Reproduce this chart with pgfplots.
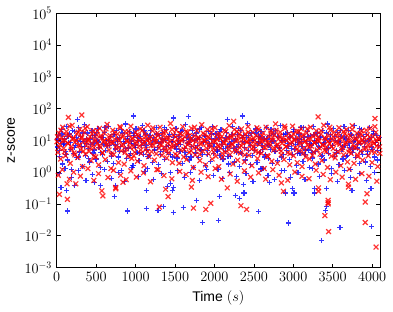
\documentclass[border=0pt]{standalone}
\usepackage{fontspec}
\setmainfont{Liberation Sans}
\usepackage{pgfplots}
\pgfplotsset{compat=1.18}
\begin{document}
\fontsize{14bp}{16bp}\selectfont
\begin{tikzpicture}
\begin{axis}[
  scale only axis, width=323bp, height=254bp,
  xmin=0, xmax=4100, ymin=1e-3, ymax=1e5, ymode=log, log basis y=10,
  xtick={0,500,...,4000},
  ytick={1e-3,1e-2,1e-1,1,10,100,1000,1e4,1e5},
  /pgf/number format/1000 sep={},
  tick align=inside, major tick length=4bp, minor tick length=2bp,
  tick style={black, line width=0.6pt},
  axis line style={line width=0.8pt},
  tick label style={font=\fontsize{14bp}{16bp}\selectfont},
  label style={font=\fontsize{14bp}{16bp}\selectfont},
  xlabel={Time $(s)$}, ylabel={z-score},
  clip=true,
]
% blue series (+)
\addplot[only marks, mark=+, mark size=2.6bp, color=blue, opacity=0.8, mark options={line width=1.2pt}] coordinates {
(8,6.2)(20,14)(31,3.1)(44,9.5)(57,22)(69,1.8)(82,7.4)(95,11)(108,4.6)(121,28)(134,2.4)(147,8.8)(160,16)(173,5.1)(186,1.2)(199,12)(212,3.8)(225,19)(238,7.0)(251,2.9)(264,10)(277,25)(290,4.3)(303,13)(316,6.6)(329,1.5)(342,9.0)(355,31)(368,3.4)(381,7.9)(394,17)(407,5.5)(420,2.1)(433,11)(446,20)(459,4.0)(472,8.3)(485,14)
(498,2.6)(511,9.8)(524,24)(537,6.1)(550,1.4)(563,12)(576,3.6)(589,7.7)(602,18)(615,4.9)(628,10)(641,2.2)(654,27)(667,6.8)(680,13)(693,3.2)(706,8.6)(719,1.9)(732,15)(745,5.4)(758,21)(771,9.2)(784,3.0)(797,12)(810,6.4)(823,1.1)(836,17)(849,4.4)(862,8.0)(875,33)(888,2.7)(901,11)(914,5.8)(927,19)(940,3.9)(953,9.6)(966,1.6)(979,14)(992,7.2)
(1005,23)(1018,4.1)(1031,10)(1044,2.3)(1057,13)(1070,6.9)(1083,29)(1096,3.5)(1109,8.4)(1122,16)(1135,5.0)(1148,1.3)(1161,11)(1174,3.3)(1187,20)(1200,7.5)(1213,2.0)(1226,12)(1239,4.7)(1252,9.1)(1265,26)(1278,6.0)(1291,1.7)(1304,14)(1317,3.7)(1330,8.9)(1343,18)(1356,5.3)(1369,2.5)(1382,10)(1395,22)(1408,4.2)(1421,7.1)(1434,15)(1447,1.0)(1460,9.4)(1473,3.0)(1486,12)
(1499,6.3)(1512,24)(1525,2.8)(1538,8.1)(1551,13)(1564,4.5)(1577,19)(1590,1.9)(1603,10)(1616,5.7)(1629,31)(1642,3.2)(1655,7.8)(1668,15)(1681,2.4)(1694,11)(1707,6.5)(1720,21)(1733,1.4)(1746,9.9)(1759,4.0)(1772,17)(1785,7.0)(1798,2.9)(1811,12)(1824,5.2)(1837,25)(1850,3.6)(1863,8.7)(1876,14)(1889,1.6)(1902,10)(1915,4.8)(1928,19)(1941,6.7)(1954,2.2)(1967,11)(1980,28)(1993,3.9)
(2006,8.2)(2019,16)(2032,5.0)(2045,1.2)(2058,12)(2071,3.4)(2084,22)(2097,7.3)(2110,2.6)(2123,10)(2136,4.6)(2149,18)(2162,6.2)(2175,1.8)(2188,13)(2201,3.1)(2214,9.0)(2227,27)(2240,5.5)(2253,2.1)(2266,11)(2279,4.3)(2292,15)(2305,7.6)(2318,1.5)(2331,20)(2344,3.8)(2357,9.5)(2370,14)(2383,6.0)(2396,2.4)(2409,12)(2422,35)(2435,4.9)(2448,8.5)(2461,1.7)(2474,17)(2487,3.3)
(2500,10)(2513,5.9)(2526,23)(2539,2.0)(2552,8.0)(2565,13)(2578,4.1)(2591,19)(2604,6.8)(2617,1.3)(2630,11)(2643,3.5)(2656,26)(2669,7.4)(2682,2.7)(2695,14)(2708,5.2)(2721,9.3)(2734,1.9)(2747,16)(2760,4.4)(2773,21)(2786,7.0)(2799,2.3)(2812,12)(2825,5.6)(2838,30)(2851,3.0)(2864,9.7)(2877,15)(2890,1.1)(2903,10)(2916,4.7)(2929,18)(2942,6.4)(2955,2.5)(2968,13)(2981,8.1)(2994,3.7)
(3007,22)(3020,5.3)(3033,11)(3046,1.6)(3059,8.8)(3072,16)(3085,4.0)(3098,25)(3111,6.6)(3124,2.2)(3137,12)(3150,3.6)(3163,9.1)(3176,19)(3189,5.0)(3202,1.4)(3215,14)(3228,7.2)(3241,2.8)(3254,28)(3267,10)(3280,4.5)(3293,8.3)(3306,17)(3319,1.8)(3332,6.1)(3345,13)(3358,3.2)(3371,21)(3384,7.7)(3397,2.4)(3410,11)(3423,5.4)(3436,33)(3449,3.9)(3462,9.0)(3475,15)(3488,1.3)
(3501,6.9)(3514,24)(3527,3.1)(3540,10)(3553,4.8)(3566,18)(3579,1.7)(3592,8.6)(3605,13)(3618,5.1)(3631,2.6)(3644,27)(3657,7.1)(3670,11)(3683,3.4)(3696,20)(3709,6.0)(3722,1.2)(3735,14)(3748,4.2)(3761,9.4)(3774,30)(3787,2.9)(3800,12)(3813,5.8)(3826,16)(3839,1.9)(3852,8.0)(3865,22)(3878,3.7)(3891,10)(3904,6.3)(3917,2.1)(3930,15)(3943,4.6)(3956,9.8)(3969,26)(3982,1.5)(3995,12)(4008,5.2)(4021,19)(4034,3.0)(4047,8.4)(4060,14)(4073,2.4)(4086,7.0)
(14,11)(40,4.8)(66,16)(92,7.9)(118,3.6)(144,13)(170,8.5)(196,21)(222,5.9)(248,12)(274,3.0)(300,9.3)(326,17)(352,6.4)(378,11)(404,2.7)(430,7.6)(456,14)(482,5.0)(508,18)(534,8.9)(560,4.2)(586,12)(612,26)(638,6.9)(664,10)(690,3.9)(716,15)(742,7.2)(768,11)(794,4.5)(820,22)(846,9.0)(872,5.6)(898,13)(924,3.3)(950,8.0)(976,17)(1002,6.1)(1028,12)(1054,4.0)(1080,9.8)(1106,20)(1132,7.0)(1158,3.2)(1184,14)(1210,10)(1236,5.3)(1262,16)(1288,8.3)(1314,4.6)(1340,11)(1366,25)(1392,6.6)(1418,13)(1444,3.5)(1470,9.0)(1496,15)(1522,5.4)(1548,10)(1574,7.4)(1600,21)(1626,4.2)(1652,12)(1678,8.6)(1704,3.0)(1730,14)(1756,6.0)(1782,11)(1808,23)(1834,5.0)(1860,9.5)(1886,13)(1912,3.7)(1938,8.0)(1964,16)(1990,6.4)
(2016,11)(2042,4.4)(2068,19)(2094,9.2)(2120,5.6)(2146,12)(2172,3.2)(2198,7.7)(2224,15)(2250,10)(2276,6.2)(2302,24)(2328,4.1)(2354,12)(2380,8.4)(2406,3.4)(2432,14)(2458,6.8)(2484,10)(2510,4.8)(2536,17)(2562,8.9)(2588,12)(2614,5.2)(2640,3.0)(2666,11)(2692,7.1)(2718,22)(2744,9.6)(2770,4.5)(2796,13)(2822,6.0)(2848,10)(2874,3.6)(2900,16)(2926,8.2)(2952,12)(2978,5.5)(3004,19)(3030,7.4)(3056,3.9)(3082,11)(3108,9.0)(3134,25)(3160,5.0)(3186,13)(3212,7.9)(3238,4.2)(3264,15)(3290,10)(3316,6.3)(3342,12)(3368,3.4)(3394,8.7)(3420,17)(3446,5.8)(3472,11)(3498,7.0)(3524,13)(3550,4.0)(3576,9.3)(3602,21)(3628,6.5)(3654,12)(3680,3.1)(3706,8.1)(3732,15)(3758,5.4)(3784,10)(3810,7.6)(3836,24)(3862,4.6)(3888,13)(3914,9.2)(3940,3.5)(3966,11)(3992,6.2)(4018,16)(4044,8.8)(4070,4.9)(4096,12)
(40,0.9)(105,1.3)(190,0.7)(280,1.1)(370,0.55)(450,0.85)(610,1.2)(690,0.65)(780,0.95)(860,0.5)(955,1.4)(1040,0.75)(1120,1.05)(1230,0.6)(1330,0.9)(1440,0.45)(1530,1.1)(1620,0.7)(1700,0.95)(1810,0.55)(1900,1.2)(1990,0.8)(2100,0.62)(2190,1.0)(2280,0.72)(2400,0.9)(2490,0.52)(2590,1.25)(2680,0.8)(2760,0.6)(2850,1.1)(2960,0.7)(3060,0.95)(3150,0.58)(3240,1.3)(3330,0.75)(3480,0.9)(3560,0.5)(3650,1.15)(3730,0.68)(3840,0.92)(3930,0.55)(4030,1.0)
(135,0.06)(898,0.06)(127,0.27)(55,0.33)(230,0.38)(560,0.38)(733,0.17)(745,0.37)(483,0.48)(1136,0.071)(1285,0.063)(1349,0.083)(1480,0.055)(1603,0.077)(1849,0.026)(2052,0.03)(1776,0.13)(1136,0.26)(1473,0.27)(1480,0.33)(1400,0.36)(2069,0.17)(2561,0.057)(2943,0.025)(2318,0.15)(2265,0.18)(2375,0.22)(2370,0.4)(2900,0.22)(3010,0.22)(2990,0.3)(2700,0.47)(3363,0.0071)(3413,0.061)(3420,0.081)(3592,0.018)(3995,0.019)(3420,0.3)(3270,0.31)(3270,0.22)(3745,0.26)(3987,0.3)
(975,59)(262,46)(1484,51)(1667,55)(2358,59)(2163,46)
};
% red series (x)
\addplot[only marks, mark=x, mark size=3.4bp, color=red, opacity=0.8, mark options={line width=1.2pt}] coordinates {
(3,9.1)(15,4.2)(27,17)(39,7.5)(51,2.6)(63,12)(75,26)(87,5.6)(99,10)(111,3.3)(123,19)(147,8.0)(159,14)(171,1.9)(183,6.3)(195,30)(207,11)(219,4.0)(231,8.7)(255,16)(267,2.9)(279,7.0)(291,22)(303,5.1)(315,12)(327,1.5)(339,9.4)(351,18)(363,3.7)(375,6.8)(387,27)(399,10)(411,4.5)(423,13)(435,2.3)(447,7.9)(459,20)(471,5.9)(483,11)
(495,3.0)(507,15)(519,8.3)(531,1.7)(543,24)(555,6.1)(567,12)(579,4.1)(591,9.0)(603,17)(615,2.5)(627,7.2)(639,32)(651,10)(663,5.0)(675,14)(687,1.3)(699,8.5)(711,21)(723,3.6)(735,11)(759,6.6)(771,16)(783,2.0)(795,9.8)(807,25)(819,4.7)(831,13)(843,7.4)(855,1.8)(867,19)(879,5.4)(891,10)(903,3.2)(915,15)(927,8.1)(939,28)(951,2.7)(963,12)(975,6.0)(987,4.3)
(999,18)(1011,9.2)(1023,2.2)(1035,14)(1047,6.7)(1059,23)(1071,3.9)(1083,11)(1095,7.7)(1107,1.6)(1119,16)(1131,5.3)(1143,10)(1155,30)(1167,3.1)(1179,8.6)(1191,13)(1203,4.4)(1215,20)(1227,6.9)(1239,2.4)(1251,12)(1263,9.5)(1275,17)(1287,1.2)(1299,5.7)(1311,26)(1323,7.1)(1335,3.4)(1347,14)(1359,10)(1371,4.8)(1383,19)(1395,2.8)(1407,8.2)(1419,12)(1431,5.6)(1443,34)(1455,6.4)(1467,2.0)(1479,15)(1491,9.0)
(1503,3.7)(1515,21)(1527,7.3)(1539,11)(1551,1.9)(1563,16)(1575,5.0)(1587,9.6)(1599,27)(1611,3.0)(1623,13)(1635,6.2)(1647,2.5)(1659,18)(1671,8.4)(1683,4.2)(1695,11)(1707,24)(1719,6.7)(1731,1.4)(1743,14)(1755,3.5)(1767,9.1)(1779,20)(1791,5.2)(1803,12)(1815,2.3)(1827,7.6)(1839,31)(1851,4.6)(1863,10)(1875,15)(1887,1.7)(1899,8.0)(1911,22)(1923,3.8)(1935,12)(1947,6.3)(1959,17)(1971,2.6)(1983,9.3)(1995,5.5)
(2007,25)(2019,3.2)(2031,11)(2043,7.0)(2055,1.5)(2067,16)(2079,5.8)(2091,13)(2103,2.9)(2115,8.9)(2127,21)(2139,4.3)(2151,10)(2175,6.5)(2187,29)(2199,3.6)(2211,12)(2223,7.8)(2235,1.8)(2247,15)(2259,5.1)(2271,9.7)(2283,19)(2295,2.4)(2307,13)(2319,6.0)(2331,4.0)(2343,23)(2355,8.3)(2367,11)(2379,2.1)(2391,16)(2403,5.4)(2415,9.0)(2427,27)(2439,3.4)(2451,12)(2463,7.2)(2475,1.6)(2487,18)(2499,6.1)
(2511,10)(2523,4.5)(2535,14)(2547,2.7)(2559,22)(2571,7.5)(2583,12)(2595,3.9)(2607,9.4)(2619,17)(2631,1.3)(2643,5.9)(2655,26)(2667,8.6)(2679,3.1)(2691,13)(2703,6.8)(2715,20)(2727,2.2)(2739,10)(2751,4.9)(2763,15)(2775,33)(2787,7.0)(2799,1.9)(2811,11)(2823,5.3)(2835,18)(2847,3.5)(2859,8.1)(2871,12)(2883,2.5)(2895,24)(2907,6.4)(2919,9.9)(2931,4.1)(2943,16)(2955,1.7)(2967,7.7)(2979,13)(2991,28)
(3003,3.3)(3015,10)(3027,6.0)(3039,19)(3051,2.0)(3063,12)(3075,4.7)(3087,8.8)(3099,23)(3111,1.5)(3123,15)(3135,5.6)(3147,9.3)(3159,3.0)(3171,17)(3183,7.1)(3195,11)(3207,2.6)(3219,26)(3231,6.6)(3243,14)(3255,4.3)(3267,8.4)(3279,1.8)(3291,20)(3303,5.0)(3315,12)(3327,9.6)(3339,3.7)(3351,16)(3363,2.3)(3375,7.4)(3387,30)(3399,4.9)(3411,11)(3423,6.2)(3435,1.4)(3447,14)(3459,8.0)(3471,21)(3483,3.2)(3495,10)
(3507,5.5)(3519,18)(3531,2.8)(3543,9.1)(3555,13)(3567,4.4)(3579,25)(3591,7.6)(3603,1.6)(3615,12)(3627,6.1)(3639,3.5)(3651,16)(3663,8.7)(3675,22)(3687,2.1)(3699,10)(3711,5.2)(3723,14)(3735,3.9)(3747,29)(3759,7.3)(3771,1.9)(3783,11)(3795,6.0)(3807,17)(3819,3.1)(3831,9.2)(3843,13)(3855,4.6)(3867,20)(3879,2.4)(3891,8.5)(3903,12)(3927,5.7)(3939,15)(3951,3.3)(3963,10)(3975,24)(3987,6.8)(3999,2.0)(4011,13)(4023,8.0)(4035,4.2)(4047,18)(4059,9.6)(4071,1.5)(4083,11)(4095,6.3)
(9,13)(31,6.0)(53,21)(75,9.8)(97,4.4)(119,15)(141,8.2)(163,28)(185,5.3)(207,12)(229,3.5)(251,10)(273,18)(295,7.1)(317,13)(339,4.6)(361,24)(383,8.9)(405,11)(427,5.7)(449,16)(471,3.2)(493,9.5)(515,20)(537,6.6)(559,14)(581,4.0)(603,10)(625,23)(647,7.5)(669,12)(691,3.7)(713,8.4)(735,17)(757,5.5)(779,11)(801,27)(823,7.0)(845,14)(867,4.2)(889,9.1)(911,19)(933,6.2)(955,11)(977,3.3)(999,8.0)(1021,15)(1043,10)(1065,5.0)(1087,21)(1109,8.7)(1131,13)(1153,4.4)(1175,11)(1197,6.8)(1219,25)(1241,9.3)(1263,3.8)(1285,14)(1307,7.6)(1329,10)(1351,18)(1373,5.9)(1395,12)(1417,4.1)(1439,9.0)(1461,22)(1483,6.5)(1505,13)(1527,3.4)(1549,8.5)(1571,16)(1593,11)(1615,5.2)(1637,19)(1659,7.4)(1681,14)(1703,4.7)(1725,9.9)(1747,26)(1769,6.1)(1791,12)(1813,3.6)(1835,8.3)(1857,17)(1879,10)(1901,5.6)(1923,13)(1945,7.8)(1967,23)(1989,4.3)
(2011,9.4)(2033,15)(2055,6.3)(2077,11)(2099,3.9)(2121,8.0)(2143,19)(2165,12)(2187,5.1)(2209,14)(2231,7.2)(2253,22)(2275,4.5)(2297,10)(2319,16)(2341,6.7)(2363,13)(2385,3.5)(2407,8.8)(2429,18)(2451,10)(2473,5.4)(2495,12)(2517,7.9)(2539,25)(2561,4.2)(2583,9.7)(2605,14)(2627,6.0)(2649,11)(2671,3.3)(2693,8.2)(2715,17)(2737,12)(2759,5.7)(2781,21)(2803,7.3)(2825,14)(2847,4.6)(2869,10)(2891,28)(2913,6.5)(2935,12)(2957,3.8)(2979,9.0)(3001,16)(3023,11)(3045,5.2)(3067,19)(3089,7.6)(3111,13)(3133,4.0)(3155,9.5)(3177,23)(3199,6.2)(3221,11)(3243,3.4)(3265,8.6)(3287,15)(3309,10)(3331,5.8)(3353,20)(3375,7.0)(3397,12)(3419,4.4)(3441,9.2)(3463,26)(3485,6.4)(3507,13)(3529,3.7)(3551,8.0)(3573,17)(3595,11)(3617,5.1)(3639,19)(3661,7.7)(3683,14)(3705,4.3)(3727,9.9)(3749,22)(3771,6.0)(3793,12)(3815,3.5)(3837,8.4)(3859,16)(3881,10)(3903,5.4)(3925,21)(3947,7.3)(3969,13)(3991,4.6)(4013,9.1)(4035,27)(4057,6.6)(4079,12)(4099,3.9)
(20,0.8)(70,1.2)(160,0.6)(215,1.0)(300,0.75)(395,1.3)(470,0.55)(530,0.9)(650,0.68)(720,1.15)(810,0.8)(880,0.58)(940,1.1)(1010,0.7)(1100,0.95)(1190,0.5)(1270,1.2)(1360,0.78)(1460,0.62)(1560,1.05)(1640,0.85)(1720,0.55)(1830,1.0)(1920,0.72)(2010,1.3)(2090,0.6)(2200,0.88)(2290,0.52)(2380,1.1)(2460,0.7)(2560,0.95)(2650,0.6)(2740,1.2)(2820,0.8)(2930,0.56)(3020,1.0)(3110,0.74)(3200,0.62)(3290,1.15)(3380,0.85)(3470,0.58)(3540,1.0)(3620,0.7)(3710,1.25)(3790,0.6)(3870,0.9)(3960,0.75)(4060,0.52)
(135,0.14)(33,0.2)(131,0.43)(242,0.43)(572,0.26)(585,0.18)(748,0.33)(748,0.3)(840,0.48)(1301,0.08)(1734,0.074)(1891,0.067)(1954,0.105)(1412,0.17)(1381,0.29)(1708,0.34)(2408,0.067)(2336,0.088)(2163,0.32)(2850,0.46)(2875,0.25)(3448,0.0135)(3401,0.043)(3442,0.13)(3442,0.11)(3442,0.10)(3913,0.026)(4050,0.0044)(3913,0.115)(3935,0.21)(3320,0.25)(3320,0.32)(3700,0.42)(3700,0.34)
(318,63)(148,53)(3316,55)(4037,49)(2244,40)
};
\end{axis}
\pgfresetboundingbox
\path ([shift={(-56.7bp,-43.7bp)}]current axis.south west) rectangle ([shift={(13bp,13.3bp)}]current axis.north east);
\end{tikzpicture}
\end{document}
